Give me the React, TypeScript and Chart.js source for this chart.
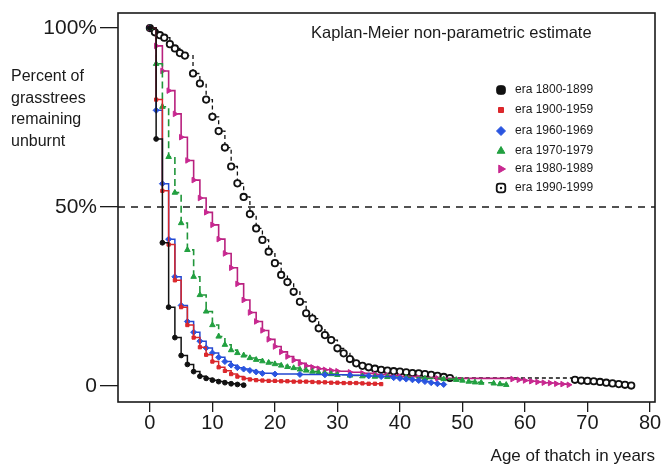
import React, { useEffect, useRef } from 'react';
import { Chart, registerables } from 'chart.js';
import { drawPoint } from 'chart.js/helpers';

Chart.register(...registerables);

const FONT = '"Liberation Sans", Arial, Helvetica, sans-serif';

const xTicks = [0, 10, 20, 30, 40, 50, 60, 70, 80];
const yTicks = [0, 50, 100];
const yTickLabels = ['0', '50%', '100%'];

const eraLabels = ['era 1800-1899', 'era 1900-1959', 'era 1960-1969', 'era 1970-1979', 'era 1980-1989', 'era 1990-1999'];

const years1800 = [0, 1, 2, 3, 4, 5, 6, 7, 8, 9, 10, 11, 12, 13, 14, 15];
const pct1800 = [100, 69, 40, 22, 13.5, 8.5, 6, 4, 2.7, 2.1, 1.6, 1.2, 0.9, 0.6, 0.4, 0.2];

const years1900 = [0, 1, 2, 3, 4, 5, 6, 7, 8, 9, 10, 11, 12, 13, 14, 15, 16, 17, 18, 19, 20, 21, 22, 23, 24, 25, 26, 27, 28, 29, 30, 31, 32, 33, 34, 35, 36, 37];
const pct1900 = [100, 80, 54.5, 39.5, 29.5, 22, 17, 13.5, 10.8, 8.7, 6.8, 5.2, 4.2, 3.3, 2.6, 2.1, 1.8, 1.6, 1.5, 1.4, 1.4, 1.3, 1.3, 1.2, 1.2, 1.2, 1.1, 1.0, 1.0, 0.9, 0.9, 0.8, 0.8, 0.8, 0.7, 0.6, 0.6, 0.5];

const years1960 = [0, 1, 2, 3, 4, 5, 6, 7, 8, 9, 10, 11, 12, 13, 14, 15, 16, 17, 18, 20, 24, 28, 32, 35, 37, 39, 40, 41, 42, 43, 44, 45, 46, 47];
const pct1960 = [100, 77, 56.5, 41, 30.5, 22.5, 18, 15, 12.5, 10.6, 9.2, 8.0, 6.8, 5.8, 5.1, 4.7, 4.3, 3.9, 3.5, 3.3, 3.2, 3.1, 3.0, 2.8, 2.6, 2.3, 2.1, 1.9, 1.7, 1.5, 1.2, 0.9, 0.6, 0.4];

const years1970 = [0, 1, 2, 3, 4, 5, 6, 7, 8, 9, 10, 11, 12, 13, 14, 15, 16, 17, 18, 19, 20, 21, 22, 23, 24, 25, 26, 27, 28, 29, 30, 32, 34, 36, 38, 41, 44, 47, 49, 50, 51, 52, 53, 55, 56, 57];
const pct1970 = [100, 90, 78, 64, 54, 45.5, 38, 30.5, 25.4, 20.8, 17, 13.8, 11.5, 10, 9.2, 8.5, 7.8, 7.3, 6.9, 6.5, 6.1, 5.7, 5.3, 5.0, 4.6, 4.3, 4.0, 3.7, 3.5, 3.3, 3.1, 2.9, 2.7, 2.6, 2.5, 2.3, 2.1, 1.9, 1.7, 1.5, 1.2, 1.0, 0.9, 0.7, 0.5, 0.3];

const years1980 = [0, 1, 2, 3, 4, 5, 6, 7, 8, 9, 10, 11, 12, 13, 14, 15, 16, 17, 18, 19, 20, 21, 22, 23, 24, 25, 26, 27, 28, 29, 30, 32, 34, 36, 38, 40, 43, 46, 58, 59, 60, 61, 62, 63, 64, 65, 66, 67];
const pct1980 = [100, 95, 88, 82.5, 76, 69.5, 63, 57.5, 52.5, 48.5, 45, 41, 37, 33, 28.5, 24, 20.5, 18, 15.5, 13, 11, 9.5, 8.2, 7.2, 6.3, 5.6, 5.2, 4.8, 4.5, 4.3, 4.1, 3.8, 3.5, 3.2, 2.9, 2.6, 2.3, 2.1, 1.9, 1.7, 1.5, 1.3, 1.1, 0.9, 0.8, 0.6, 0.5, 0.3];

const years1990 = [0, 0.8, 1.6, 2.3, 3.2, 4, 4.8, 5.6, 6.9, 8, 9, 10, 11, 12, 13, 14, 15, 16, 17, 18, 19, 20, 21, 22, 23, 24, 25, 26, 27, 28, 29, 30, 31, 32, 33, 34, 35, 36, 37, 38, 39, 40, 41, 42, 43, 44, 45, 46, 47, 48, 68, 69, 70, 71, 72, 73, 74, 75, 76, 77];
const pct1990 = [100, 98.8, 98, 97.3, 95.5, 94.3, 93, 92.3, 87.3, 84.5, 80, 75.2, 71.2, 66.6, 61.3, 56.6, 52.8, 48, 44, 40.8, 37.5, 34.3, 31, 29, 26.3, 23.5, 20.3, 18.8, 16.1, 14.2, 12.8, 10.5, 9.1, 7.5, 6.3, 5.6, 5.2, 4.8, 4.5, 4.3, 4.1, 4.0, 3.8, 3.6, 3.5, 3.3, 3.1, 2.8, 2.5, 2.2, 1.7, 1.5, 1.4, 1.3, 1.1, 0.9, 0.7, 0.5, 0.3, 0.1];

const eraYears = [years1800, years1900, years1960, years1970, years1980, years1990];
const eraPct = [pct1800, pct1900, pct1960, pct1970, pct1980, pct1990];

const styles = [
  { line: '#111111', fill: '#111111', edge: '#111111', pointStyle: 'circle', radius: 2.4, rotation: 0, dash: [] as number[], lw: 1.5, legendStyle: 'rectRounded', legendRadius: 5 },
  { line: '#d8262a', fill: '#e0282c', edge: '#d8262a', pointStyle: 'rect', radius: 2.3, rotation: 0, dash: [] as number[], lw: 1.5, legendStyle: 'rect', legendRadius: 3.5 },
  { line: '#2447d0', fill: '#2a55e0', edge: '#2a55e0', pointStyle: 'rectRot', radius: 3, rotation: 0, dash: [] as number[], lw: 1.5, legendStyle: 'rectRot', legendRadius: 4.5 },
  { line: '#20963a', fill: '#22a040', edge: '#22a040', pointStyle: 'triangle', radius: 3.2, rotation: 0, dash: [7, 4], lw: 1.6, legendStyle: 'triangle', legendRadius: 4.5 },
  { line: '#b8207e', fill: '#c82890', edge: '#c82890', pointStyle: 'triangle', radius: 3.2, rotation: 90, dash: [] as number[], lw: 1.6, legendStyle: 'triangle', legendRadius: 4.5 },
  { line: '#111111', fill: '#ffffff', edge: '#111111', pointStyle: 'circle', radius: 3.2, rotation: 0, dash: [4, 3], lw: 1.3, legendStyle: 'rectRounded', legendRadius: 5 },
];

const legendRows = [90, 110, 131, 151, 169, 188];

const annotationPlugin = {
  id: 'annotations',
  beforeDatasetsDraw(chart: any) {
    const { ctx, chartArea, scales } = chart;
    const y50 = scales.y.getPixelForValue(50);
    ctx.save();
    ctx.strokeStyle = '#1a1a1a';
    ctx.lineWidth = 1.4;
    ctx.setLineDash([7, 6]);
    ctx.beginPath();
    ctx.moveTo(chartArea.left, y50);
    ctx.lineTo(chartArea.right, y50);
    ctx.stroke();
    ctx.restore();
  },
  afterDraw(chart: any) {
    const { ctx, chartArea } = chart;
    ctx.save();
    ctx.strokeStyle = '#1a1a1a';
    ctx.lineWidth = 1.6;
    ctx.setLineDash([]);
    ctx.strokeRect(chartArea.left, chartArea.top, chartArea.right - chartArea.left, chartArea.bottom - chartArea.top);

    ctx.fillStyle = '#1a1a1a';
    ctx.textBaseline = 'alphabetic';
    ctx.textAlign = 'left';
    ctx.font = `16.5px ${FONT}`;
    ctx.fillText('Kaplan-Meier non-parametric estimate', 311, 38);

    ctx.font = `16px ${FONT}`;
    const yLines = ['Percent of', 'grasstrees', 'remaining', 'unburnt'];
    const yBase = [81, 103, 124, 146];
    yLines.forEach((t, i) => ctx.fillText(t, 11, yBase[i]));

    ctx.textAlign = 'right';
    ctx.font = `17px ${FONT}`;
    ctx.fillText('Age of thatch in years', 655, 461);

    ctx.textAlign = 'left';
    ctx.textBaseline = 'middle';
    ctx.font = `12px ${FONT}`;
    eraLabels.forEach((label, i) => {
      const s = styles[i];
      const y = legendRows[i];
      ctx.fillStyle = s.fill;
      ctx.strokeStyle = s.edge;
      ctx.lineWidth = i === 5 ? 1.8 : 1;
      drawPoint(ctx, { pointStyle: s.legendStyle, radius: s.legendRadius, rotation: s.rotation, borderWidth: ctx.lineWidth } as any, 501, y);
      if (i === 5) {
        ctx.fillStyle = '#111';
        ctx.beginPath();
        ctx.arc(501, y, 1.2, 0, Math.PI * 2);
        ctx.fill();
      }
      ctx.fillStyle = '#1a1a1a';
      ctx.fillText(label, 515, y);
    });
    ctx.restore();
  },
};

export default function App() {
  const canvasRef = useRef<HTMLCanvasElement | null>(null);

  useEffect(() => {
    if (!canvasRef.current) return;
    const datasets = eraLabels.map((label, i) => {
      const s = styles[i];
      return {
        label,
        data: eraYears[i].map((x, j) => ({ x, y: eraPct[i][j] })),
        stepped: true,
        borderColor: s.line,
        borderWidth: s.lw,
        borderDash: s.dash,
        backgroundColor: s.fill,
        pointStyle: s.pointStyle,
        pointRadius: s.radius,
        pointRotation: s.rotation,
        pointBackgroundColor: s.fill,
        pointBorderColor: s.edge,
        pointBorderWidth: i === 5 ? 1.8 : 1,
        fill: false,
      };
    });

    const chart = new Chart(canvasRef.current, {
      type: 'line',
      data: { datasets: datasets as any },
      plugins: [annotationPlugin],
      options: {
        animation: false,
        responsive: false,
        devicePixelRatio: 1,
        layout: { padding: { top: 13, right: 6, left: 0, bottom: 0 } },
        plugins: { legend: { display: false }, tooltip: { enabled: false }, title: { display: false } },
        scales: {
          x: {
            type: 'linear',
            min: -5.1,
            max: 80.8,
            afterBuildTicks: (s: any) => { s.ticks = xTicks.map((v) => ({ value: v })); },
            afterFit: (s: any) => { s.height = 64; s.paddingLeft = 0; s.paddingRight = 0; },
            grid: { drawOnChartArea: false, drawTicks: true, tickLength: 10, color: '#1a1a1a', lineWidth: 1.3 },
            border: { display: false },
            ticks: { font: { size: 20, family: FONT }, color: '#1a1a1a', padding: -1, maxRotation: 0, autoSkip: false },
          },
          y: {
            type: 'linear',
            min: -4.5,
            max: 104.2,
            afterBuildTicks: (s: any) => { s.ticks = yTicks.map((v) => ({ value: v })); },
            afterFit: (s: any) => { s.width = 118; s.paddingTop = 0; s.paddingBottom = 0; },
            grid: { drawOnChartArea: false, drawTicks: true, tickLength: 18, color: '#1a1a1a', lineWidth: 1.3 },
            border: { display: false },
            ticks: {
              font: { size: 21, family: FONT },
              color: '#1a1a1a',
              padding: 3,
              autoSkip: false,
              callback: (v: any) => yTickLabels[yTicks.indexOf(Number(v))] ?? '',
            },
          },
        },
      },
    });
    return () => chart.destroy();
  }, []);

  return (
    <div style={{ position: 'absolute', left: 0, top: 0, width: 661, height: 466, background: '#fff' }}>
      <canvas ref={canvasRef} width={661} height={466} style={{ display: 'block' }} />
    </div>
  );
}
